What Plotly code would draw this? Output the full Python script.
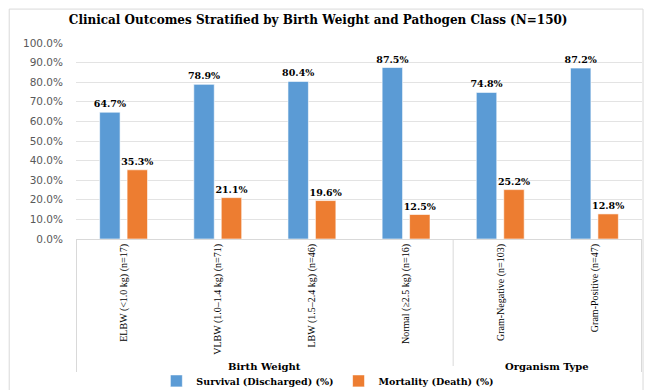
import plotly.graph_objects as go

# Group / category labels for the x axis
groups = ["Birth Weight", "Birth Weight", "Birth Weight", "Birth Weight",
          "Organism Type", "Organism Type"]
categories = ["ELBW (<1.0 kg) (n=17)", "VLBW (1.0–1.4 kg) (n=71)",
              "LBW (1.5–2.4 kg) (n=46)", "Normal (≥2.5 kg) (n=16)",
              "Gram-Negative (n=103)", "Gram-Positive (n=47)"]
series_names = ["Survival (Discharged) (%)", "Mortality (Death) (%)"]

# Outcome percentages
survival = [64.7, 78.9, 80.4, 87.5, 74.8, 87.2]
mortality = [35.3, 21.1, 19.6, 12.5, 25.2, 12.8]

yticks = [0, 10, 20, 30, 40, 50, 60, 70, 80, 90, 100]
yticklabels = [f"{v:.1f}%" for v in yticks]

serif = "Liberation Serif"
wide_serif = "DejaVu Serif"
label_font = dict(family=wide_serif, size=9.5, color="#000000")

fig = go.Figure()
for name, values, color in zip(series_names, [survival, mortality],
                               ["#5b9bd5", "#ed7d31"]):
    fig.add_trace(go.Bar(
        x=categories, y=values, name=f"<b>{name}</b>",
        marker=dict(color=color, line=dict(color="#ffffff", width=0.6)),
        texttemplate="<b>%{y:.1f}%</b>", textposition="outside",
        textfont=label_font, cliponaxis=False, constraintext="none",
    ))

fig.update_layout(
    width=652, height=390,
    margin=dict(l=76, r=10, t=43, b=151, autoexpand=False),
    paper_bgcolor="#ffffff", plot_bgcolor="#ffffff",
    barmode="group", bargap=0.417, bargroupgap=0.255,
    title=dict(text="<b>Clinical Outcomes Stratified by Birth Weight and Pathogen Class (N=150)</b>",
               x=0.488, xanchor="center", y=0.948, yanchor="middle",
               font=dict(family=wide_serif, size=12, color="#000000")),
    legend=dict(orientation="h", x=0.445, xanchor="center", y=-0.724, yanchor="middle",
                font=dict(family=wide_serif, size=9.5, color="#000000"),
                traceorder="normal"),
    showlegend=True,
)

fig.update_xaxes(
    type="category", tickangle=-90,
    tickfont=dict(family=serif, size=10, color="#000000"),
    showline=True, linecolor="#d9d9d9", linewidth=1, ticks="",
)
fig.update_yaxes(
    range=[0, 100], tickvals=yticks, ticktext=yticklabels,
    tickfont=dict(family="DejaVu Sans", size=10.5, color="#595959"),
    showgrid=True, gridcolor="#e3e3e3", gridwidth=1,
    zeroline=False, showline=False, ticks="", ticklabelstandoff=12,
)

# Group labels under the category labels, with dividers at group edges
divider_y = (239 - 372) / 196
label_y = (239 - 366) / 196
bounds = [-0.5]
for i in range(1, len(groups)):
    if groups[i] != groups[i - 1]:
        bounds.append(i - 0.5)
bounds.append(len(groups) - 0.5)

for b in bounds:
    fig.add_shape(type="line", xref="x", yref="paper", x0=b, x1=b,
                  y0=0, y1=divider_y, line=dict(color="#d9d9d9", width=1))

for lo, hi in zip(bounds[:-1], bounds[1:]):
    name = groups[int(lo + 0.5)]
    fig.add_annotation(x=(lo + hi) / 2, xref="x", y=label_y, yref="paper",
                       xanchor="center", yanchor="middle",
                       text=f"<b>{name}</b>", showarrow=False,
                       font=dict(family=wide_serif, size=10, color="#000000"))

# Light frame around the whole chart
fig.add_shape(type="rect", xref="paper", yref="paper",
              x0=-0.118, x1=1.0018, y0=-0.8, y1=1.173,
              line=dict(color="#d9d9d9", width=1), layer="below")

fig.write_html("out.html")
